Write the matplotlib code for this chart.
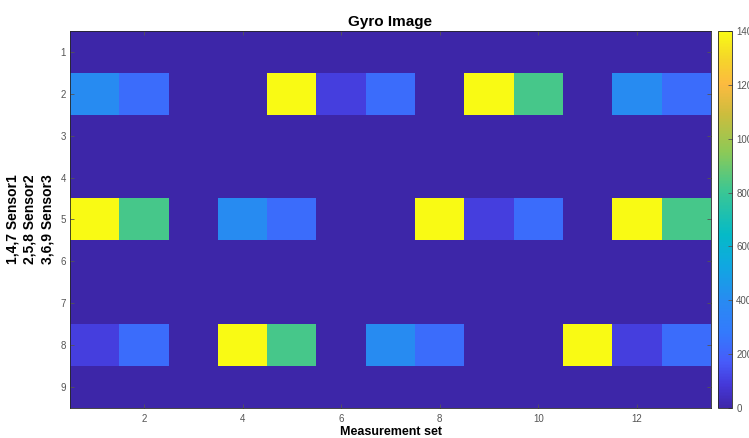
import numpy as np
import matplotlib.pyplot as plt
from matplotlib.colors import LinearSegmentedColormap

# Gyro image values: rows = sensor channels 1..9, columns = measurement sets 1..13
row_labels = [1, 2, 3, 4, 5, 6, 7, 8, 9]
set_labels = list(range(1, 14))
row1 = [0] * 13
row2 = [400, 230, 0, 0, 1400, 100, 230, 0, 1400, 830, 0, 400, 230]
row3 = [0] * 13
row4 = [0] * 13
row5 = [1400, 830, 0, 400, 230, 0, 0, 1400, 100, 230, 0, 1400, 830]
row6 = [0] * 13
row7 = [0] * 13
row8 = [100, 230, 0, 1400, 830, 0, 400, 230, 0, 0, 1400, 100, 230]
row9 = [0] * 13
cbar_ticks = [0, 200, 400, 600, 800, 1000, 1200, 1400]

data = np.array([row1, row2, row3, row4, row5, row6, row7, row8, row9])

# approximate MATLAB parula
parula_pts = [
    (0.00, (0.2422, 0.1504, 0.6603)),
    (0.06, (0.2700, 0.2200, 0.8500)),
    (0.12, (0.2780, 0.3556, 0.9777)),
    (0.20, (0.2000, 0.4800, 0.9900)),
    (0.28, (0.1600, 0.5400, 0.9500)),
    (0.38, (0.0600, 0.6600, 0.8800)),
    (0.46, (0.0200, 0.7300, 0.7800)),
    (0.58, (0.2400, 0.7800, 0.5700)),
    (0.68, (0.5500, 0.7900, 0.3400)),
    (0.78, (0.8000, 0.7400, 0.2400)),
    (0.86, (0.9900, 0.7300, 0.2500)),
    (0.93, (0.9600, 0.8400, 0.1600)),
    (1.00, (0.9769, 0.9839, 0.0805)),
]
parula = LinearSegmentedColormap.from_list("parula", parula_pts)

plt.rcParams['font.family'] = ['Liberation Sans', 'DejaVu Sans']
fig = plt.figure(figsize=(7.49, 4.38), dpi=100)
ax = fig.add_axes([70 / 749, 30 / 438, 641 / 749, 377 / 438])
cax = fig.add_axes([718 / 749, 30 / 438, 14 / 749, 377 / 438])

im = ax.imshow(data, cmap=parula, vmin=0, vmax=1400, aspect='auto',
               interpolation='nearest',
               extent=[0.5, len(set_labels) + 0.5, len(row_labels) + 0.5, 0.5])

ax.set_xticks([2, 4, 6, 8, 10, 12])
ax.set_yticks(row_labels)
ax.tick_params(direction='in', length=3, width=0.6, labelsize=7, colors='#555555',
               top=True, right=True)
ax.tick_params(axis='x', pad=4)
ax.tick_params(axis='y', pad=3)
for s in ax.spines.values():
    s.set_color('#262626')
    s.set_linewidth(0.6)

ax.set_title("Gyro Image", fontsize=11, fontweight='bold', pad=3.5)
ax.set_xlabel("Measurement set", fontsize=9, fontweight='bold', labelpad=2)
ax.set_ylabel("1,4,7 Sensor1\n2,5,8 Sensor2\n3,6,9 Sensor3", fontsize=10,
              fontweight='bold', labelpad=4, linespacing=1.35)

cb = fig.colorbar(im, cax=cax, ticks=cbar_ticks)
cb.ax.tick_params(direction='in', length=3, width=0.6, labelsize=7, colors='#555555', pad=3)
cb.outline.set_linewidth(0.6)
cb.outline.set_edgecolor('#262626')

fig.savefig("out.png", dpi=100)
